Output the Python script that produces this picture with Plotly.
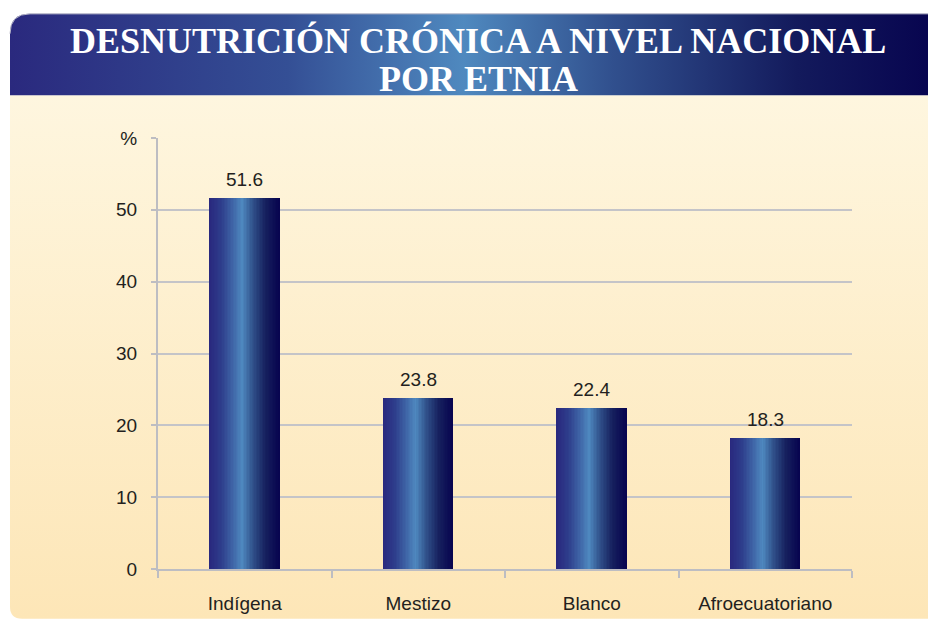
import base64
import plotly.graph_objects as go

categories = ["Indígena", "Mestizo", "Blanco", "Afroecuatoriano"]
values = [51.6, 23.8, 22.4, 18.3]
tick_vals = [0, 10, 20, 30, 40, 50, 60]
tick_text = ["0", "10", "20", "30", "40", "50", "%"]
title_line1 = "DESNUTRICIÓN CRÓNICA A NIVEL NACIONAL"
title_line2 = "POR ETNIA"

# page body has an 8px margin; figure drawn at (8,8) in the 936x626 window
OFF = 8
W, H = 936 - OFF, 626 - OFF
L, R, T, B = 158 - OFF, 84, 138 - OFF, 54
PW, PH = W - L - R, H - T - B

# gradient stops for bars (position within bar, color)
stops = [(0.0, (41, 40, 126)), (0.18, (46, 62, 140)), (0.47, (78, 136, 191)),
         (0.6, (52, 88, 145)), (0.8, (22, 32, 94)), (1.0, (7, 4, 79))]


def color_at(t):
    for (p0, c0), (p1, c1) in zip(stops[:-1], stops[1:]):
        if p0 <= t <= p1:
            f = (t - p0) / (p1 - p0)
            c = [round(a + (b - a) * f) for a, b in zip(c0, c1)]
            return "rgb(%d,%d,%d)" % tuple(c)
    return "rgb(%d,%d,%d)" % stops[-1][1]


fig = go.Figure()
N = 48
bw = 0.403
for i in range(N):
    fig.add_trace(go.Bar(
        x=categories, y=values, width=bw / N * 1.05, offset=-bw / 2 + i * bw / N,
        marker=dict(color=color_at((i + 0.5) / N), line=dict(width=0)),
        hoverinfo="skip", showlegend=False))

for c, v in zip(categories, values):
    fig.add_annotation(x=c, y=v, text="%.1f" % v, showarrow=False, xanchor="center",
                       yanchor="bottom", yshift=6,
                       font=dict(family="Liberation Sans, Arial", size=19, color="#231f20"))

svg = f'''<svg xmlns="http://www.w3.org/2000/svg" width="{W}" height="{H}" viewBox="0 0 {W} {H}" preserveAspectRatio="none">
<defs>
<linearGradient id="bg" x1="0" y1="0" x2="0" y2="1">
<stop offset="0" stop-color="#fef6df"/><stop offset="1" stop-color="#fde6b7"/></linearGradient>
<linearGradient id="hd" x1="0" y1="0" x2="1" y2="0">
<stop offset="0" stop-color="#2a297e"/><stop offset="0.3" stop-color="#344f95"/>
<stop offset="0.49" stop-color="#4f89bf"/><stop offset="0.65" stop-color="#31508e"/>
<stop offset="0.85" stop-color="#131a5c"/><stop offset="1" stop-color="#07044f"/></linearGradient>
</defs>
<rect x="0" y="0" width="{W}" height="{H}" fill="#ffffff"/>
<path d="M2 87 H{W} V614 H14 Q2 614 2 602 Z" fill="url(#bg)"/>
<path d="M2 87 V25 Q2 5 22 5 H{W} V87 Z" fill="url(#hd)"/>
<path d="M2 25 Q2 5 22 5 H{W}" fill="none" stroke="#b8b8c8" stroke-width="1"/>
</svg>'''
src = "data:image/svg+xml;base64," + base64.b64encode(svg.encode()).decode()

fig.add_layout_image(dict(source=src, xref="paper", yref="paper",
                          x=-L / PW, y=(H - B) / PH, sizex=W / PW, sizey=H / PH,
                          xanchor="left", yanchor="top", sizing="stretch", layer="below"))


def py(ypx):  # reference pixel y -> paper
    return (H - B - (ypx - OFF)) / PH


def px(xpx):  # reference pixel x -> paper
    return (xpx - OFF - L) / PW


for line, yref_px in ((title_line1, 40), (title_line2, 79)):
    fig.add_annotation(text="<b>" + line + "</b>", x=px(478), y=py(yref_px), xref="paper", yref="paper",
                       showarrow=False, xanchor="center", yanchor="middle",
                       font=dict(family="Liberation Serif, Times New Roman, serif", size=36, color="white"))

fig.update_layout(
    width=W, height=H, margin=dict(l=L, r=R, t=T, b=B),
    paper_bgcolor="white", plot_bgcolor="rgba(0,0,0,0)",
    barmode="overlay", bargap=0,
    xaxis=dict(type="category", showgrid=False, showline=True, linecolor="#bdbdc2", linewidth=2,
               ticks="outside", tickson="boundaries", ticklen=7, tickcolor="#bdbdc2", tickwidth=2,
               ticklabelstandoff=16,
               tickfont=dict(family="Liberation Sans, Arial", size=19, color="#231f20"),
               range=[-0.5, 3.5], fixedrange=True),
    yaxis=dict(range=[0, 60], tickvals=tick_vals, ticktext=tick_text, showgrid=True,
               gridcolor="#c4c4c8", gridwidth=2, showline=True, linecolor="#bdbdc2", linewidth=2,
               ticks="outside", ticklen=5, tickcolor="#bdbdc2", tickwidth=2,
               ticklabelstandoff=10,
               tickfont=dict(family="Liberation Sans, Arial", size=19, color="#231f20"),
               zeroline=False, fixedrange=True),
)

fig.write_html("out.html")
